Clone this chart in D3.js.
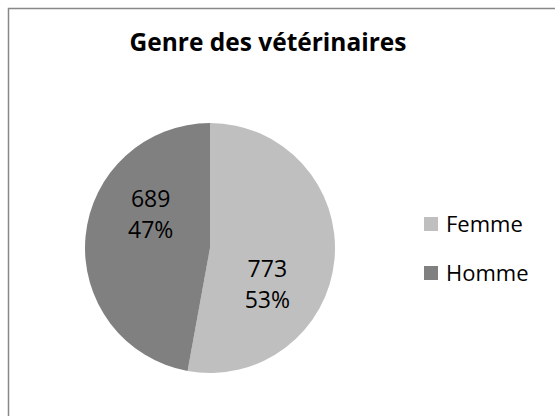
<!DOCTYPE html>
<html>
<head>
<meta charset="utf-8">
<script src="https://cdn.jsdelivr.net/npm/d3@7"></script>
<style>
  body { margin: 0; background: #fff; }
  text { font-family: "Open Sans", "Noto Sans", sans-serif; }
</style>
</head>
<body>
<script>
const categories = ["Femme", "Homme"];
const counts = [773, 689];
const colors = ["#BFBFBF", "#808080"];
const title = "Genre des vétérinaires";

const w = 555;
const h = 416;
const cx = 210, cy = 248, radius = 125;

const svg = d3.select("body")
  .append("svg")
  .attr("width", w)
  .attr("height", h);

// chart frame (runs off the right and bottom edge like the original)
svg.append("rect")
  .attr("x", 8.5)
  .attr("y", 8.5)
  .attr("width", 560)
  .attr("height", 420)
  .attr("fill", "#fff")
  .attr("stroke", "#888")
  .attr("stroke-width", 1.5);

// title, sized to match the original width
const t = svg.append("text")
  .attr("x", 268)
  .attr("y", 51)
  .attr("text-anchor", "middle")
  .attr("font-weight", "bold")
  .attr("font-size", 24)
  .text(title);
const tl = t.node().getComputedTextLength();
t.attr("font-size", 24 * 277 / tl);

const total = d3.sum(counts);
const pie = d3.pie().sort(null).value(d => d)(counts);
const arc = d3.arc().innerRadius(0).outerRadius(radius);

const color = d3.scaleOrdinal().domain(categories).range(colors);

const g = svg.append("g").attr("transform", `translate(${cx},${cy})`);

g.selectAll("path")
  .data(pie)
  .enter()
  .append("path")
  .attr("d", arc)
  .attr("fill", (d, i) => color(categories[i]));

// labels sit a bit clockwise of the slice middle, like Excel's best fit
const shift = 0.45;
const labelArc = d3.arc().innerRadius(68).outerRadius(68);
const labels = g.selectAll(".lbl")
  .data(pie)
  .enter()
  .append("text")
  .attr("class", "lbl")
  .attr("text-anchor", "middle")
  .attr("font-size", 23)
  .attr("fill", "#000")
  .attr("transform", d => {
    const c = labelArc.centroid({startAngle: d.startAngle + shift, endAngle: d.endAngle + shift});
    return `translate(${c[0] - 1},${c[1]})`;
  });
labels.append("tspan")
  .attr("x", 0)
  .attr("y", -6)
  .text(d => d.value);
labels.append("tspan")
  .attr("x", 0)
  .attr("y", 25)
  .text(d => Math.round(d.value / total * 100) + "%");

// legend
const legend = svg.selectAll(".leg")
  .data(categories)
  .enter()
  .append("g")
  .attr("class", "leg")
  .attr("transform", (d, i) => `translate(424,${217 + i * 49})`);
legend.append("rect")
  .attr("width", 14)
  .attr("height", 14)
  .attr("fill", d => color(d));
legend.append("text")
  .attr("x", 22)
  .attr("y", 15)
  .attr("font-size", 22)
  .text(d => d);
</script>
</body>
</html>
